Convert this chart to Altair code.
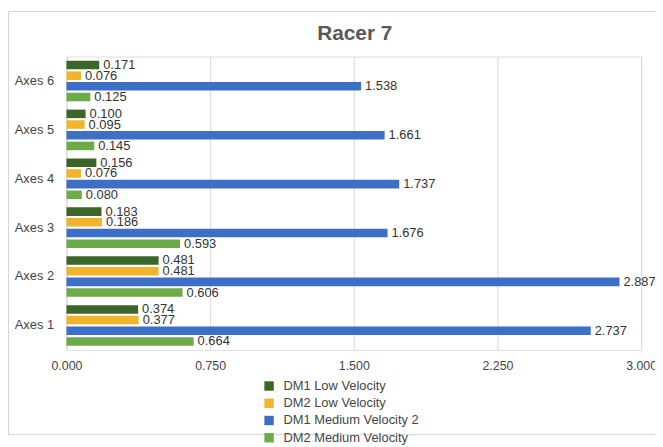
import altair as alt
import pandas as pd

title_text = "Racer 7"
categories = ["Axes 1", "Axes 2", "Axes 3", "Axes 4", "Axes 5", "Axes 6"]
series = ["DM1 Low Velocity", "DM2 Low Velocity", "DM1 Medium Velocity 2", "DM2 Medium Velocity"]
colors = ["#3b6628", "#f2b42a", "#3e6fc7", "#6cab47"]

dm1_low = [0.374, 0.481, 0.183, 0.156, 0.100, 0.171]
dm2_low = [0.377, 0.481, 0.186, 0.076, 0.095, 0.076]
dm1_med = [2.737, 2.887, 1.676, 1.737, 1.661, 1.538]
dm2_med = [0.664, 0.606, 0.593, 0.080, 0.145, 0.125]

rows = []
for s, vals in zip(series, [dm1_low, dm2_low, dm1_med, dm2_med]):
    for c, v in zip(categories, vals):
        rows.append({"cat": c, "series": s, "value": v})
df = pd.DataFrame(rows)

FONT = "Liberation Sans"

y_enc = alt.Y("cat:N", sort=categories[::-1], title=None,
              scale=alt.Scale(paddingInner=0.17, paddingOuter=0.085),
              axis=alt.Axis(domain=False, ticks=False, labelPadding=13,
                            labelFontSize=13, labelColor="#444444", labelFont=FONT))
yoff = alt.YOffset("series:N", sort=series, scale=alt.Scale(paddingInner=0.2))

bars = alt.Chart(df).mark_bar().encode(
    x=alt.X("value:Q", title=None,
            scale=alt.Scale(domain=[0, 3.0], nice=False),
            axis=alt.Axis(values=[0, 0.75, 1.5, 2.25, 3.0], format=".3f",
                          domain=False, ticks=False, labelPadding=10,
                          labelFontSize=12.5, labelColor="#444444", labelFont=FONT,
                          grid=True, gridColor="#d9d9d9", labelFlush=False)),
    y=y_enc,
    yOffset=yoff,
    color=alt.Color("series:N", sort=series,
                    scale=alt.Scale(domain=series, range=colors),
                    legend=alt.Legend(title=None, orient="none", legendX=198, legendY=326,
                                      symbolType="square", symbolSize=90,
                                      symbolStrokeWidth=0, labelOffset=8,
                                      labelFontSize=13, labelColor="#444444",
                                      labelFont=FONT, rowPadding=3.4, padding=0)),
)

labels = alt.Chart(df).mark_text(align="left", baseline="middle", dx=4,
                                 fontSize=13, color="#333333", font=FONT).encode(
    x="value:Q",
    y=alt.Y("cat:N", sort=categories[::-1]),
    yOffset=yoff,
    text=alt.Text("value:Q", format=".3f"),
)

one = alt.Data(values=[{"t": title_text}])
frame_left = alt.Chart(one).mark_rule(stroke="#d4d4d4", strokeWidth=1).encode(
    x=alt.value(-58.5), y=alt.value(-45.5), y2=alt.value(381.5))
frame_top = alt.Chart(one).mark_rule(stroke="#d4d4d4", strokeWidth=1).encode(
    x=alt.value(-58.5), x2=alt.value(640), y=alt.value(-45.5))
frame_bottom = alt.Chart(one).mark_rule(stroke="#d4d4d4", strokeWidth=1).encode(
    x=alt.value(-58.5), x2=alt.value(640), y=alt.value(381.5))
title = alt.Chart(one).mark_text(fontSize=21, fontWeight="bold", color="#595959",
                                 font=FONT, align="center", baseline="alphabetic").encode(
    x=alt.value(291), y=alt.value(-17), text="t:N")

chart = alt.layer(frame_left, frame_top, frame_bottom, title, bars, labels).properties(
    width=580, height=296,
    padding={"left": 59, "top": 47, "right": 14, "bottom": 94},
    autosize=alt.AutoSizeParams(type="none"),
).configure_view(stroke=None).configure(background="white")

chart.save("out.html", embed_options={"renderer": "svg", "actions": False})
